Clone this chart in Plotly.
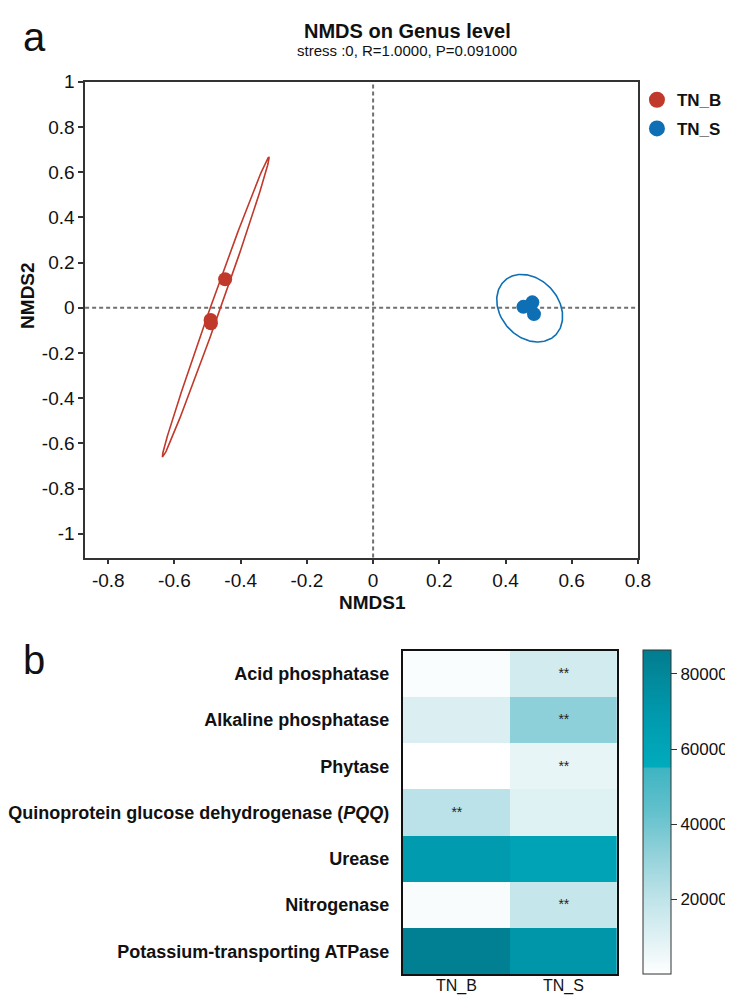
import numpy as np
import plotly.graph_objects as go

W, H = 733, 998
FONT = "Liberation Sans, Arial, Helvetica, sans-serif"

# ---------------- data: NMDS (panel a) ----------------
groups = ["TN_B", "TN_S"]
colors = {"TN_B": "#C0392B", "TN_S": "#0E6FB5"}
tnb_x = [-0.447, -0.491, -0.490]
tnb_y = [0.126, -0.054, -0.069]
tns_x = [0.454, 0.481, 0.486]
tns_y = [0.004, 0.024, -0.028]
# confidence ellipse parameters (center, covariance)
tnb_center = [-0.4755, 0.003]
tnb_cov = [[0.02595, 0.10631], [0.10631, 0.43963]]
tns_center = [0.473, -0.002]
tns_cov = [[0.0099, -0.003636], [-0.003636, 0.02238]]
x_ticks = [-0.8, -0.6, -0.4, -0.2, 0, 0.2, 0.4, 0.6, 0.8]
y_ticks = [-1, -0.8, -0.6, -0.4, -0.2, 0, 0.2, 0.4, 0.6, 0.8, 1]

# ---------------- data: heatmap (panel b) ----------------
enzymes = ["Acid phosphatase", "Alkaline phosphatase", "Phytase",
           "Quinoprotein glucose dehydrogenase (<i>PQQ</i>)", "Urease",
           "Nitrogenase", "Potassium-transporting ATPase"]
samples = ["TN_B", "TN_S"]
tn_b_vals = [1500, 11000, 0, 21000, 68000, 2000, 84000]
tn_s_vals = [14000, 33000, 7000, 10000, 62000, 18000, 71000]
tn_b_sig = ["", "", "", "**", "", "", ""]
tn_s_sig = ["**", "**", "**", "", "", "**", ""]
cbar_ticks = [20000, 40000, 60000, 80000]
z_min, z_max = 0, 86300


def fmt(v):
    s = ("%.1f" % v).rstrip("0").rstrip(".")
    return "0" if s in ("-0", "0") else s


def ellipse(center, cov, n=200):
    vals, vecs = np.linalg.eigh(np.array(cov))
    t = np.linspace(0, 2 * np.pi, n)
    circ = np.vstack([np.cos(t), np.sin(t)])
    pts = vecs @ np.diag(np.sqrt(vals)) @ circ
    return pts[0] + center[0], pts[1] + center[1]


fig = go.Figure()

# ellipses
for g, c, cv in [("TN_B", tnb_center, tnb_cov), ("TN_S", tns_center, tns_cov)]:
    ex, ey = ellipse(c, cv)
    fig.add_trace(go.Scatter(x=ex, y=ey, mode="lines", line=dict(color=colors[g], width=1.6),
                             showlegend=False, hoverinfo="skip", xaxis="x", yaxis="y"))

# points
for g, xs, ys in [("TN_B", tnb_x, tnb_y), ("TN_S", tns_x, tns_y)]:
    fig.add_trace(go.Scatter(x=xs, y=ys, mode="markers", name=g,
                             marker=dict(color=colors[g], size=14, line=dict(width=0)),
                             showlegend=False, xaxis="x", yaxis="y"))

# legend entries (separate legends to control spacing)
fig.add_trace(go.Scatter(x=[None], y=[None], mode="markers", name="TN_B",
                         marker=dict(color=colors["TN_B"], size=16), legend="legend",
                         xaxis="x", yaxis="y"))
fig.add_trace(go.Scatter(x=[None], y=[None], mode="markers", name="TN_S",
                         marker=dict(color=colors["TN_S"], size=16), legend="legend2",
                         xaxis="x", yaxis="y"))

# heatmap
z = [[b, s] for b, s in zip(tn_b_vals, tn_s_vals)]
txt = [[b, s] for b, s in zip(tn_b_sig, tn_s_sig)]
colorscale = [
    [0.0, "#FFFFFF"],
    [0.12, "#DDF0F3"],
    [0.23, "#BFE4E9"],
    [0.38, "#8FD0D9"],
    [0.50, "#63C1CC"],
    [0.634, "#3FB4C2"],
    [0.640, "#00ABBC"],
    [0.72, "#00A3B5"],
    [0.80, "#0099AD"],
    [0.90, "#028B9E"],
    [1.0, "#027C8F"],
]
fig.add_trace(go.Heatmap(
    z=z, x=samples, y=enzymes, text=txt, texttemplate="%{text}",
    textfont=dict(size=14, color="#222222", family=FONT),
    colorscale=colorscale, zmin=z_min, zmax=z_max, xaxis="x2", yaxis="y2",
    colorbar=dict(x=645.7 / W, xanchor="left", y=1 - 966 / H, yanchor="bottom",
                  len=327 / H, lenmode="fraction", thickness=27.6, thicknessmode="pixels",
                  xpad=0, ypad=0, outlinewidth=1, outlinecolor="#333333",
                  tickvals=cbar_ticks, ticktext=[str(v) for v in cbar_ticks],
                  ticks="outside", ticklen=6, tickcolor="#333333",
                  tickfont=dict(size=17, family=FONT, color="#111111")),
    hoverinfo="skip"))

# dashed zero lines
shapes = [
    dict(type="line", xref="x", yref="y domain", x0=0, x1=0, y0=0, y1=1,
         line=dict(color="#707070", width=2, dash="4px,3px"), layer="below"),
    dict(type="line", xref="x domain", yref="y", x0=0, x1=1, y0=0, y1=0,
         line=dict(color="#707070", width=2, dash="4px,3px"), layer="below"),
]

annotations = [
    dict(text="a", x=3 / W, y=1 - 19 / H, xref="paper", yref="paper", xanchor="left",
         yanchor="middle", showarrow=False, font=dict(size=40, family=FONT, color="#111")),
    dict(text="b", x=3 / W, y=1 - 648 / H, xref="paper", yref="paper", xanchor="left",
         yanchor="middle", showarrow=False, font=dict(size=40, family=FONT, color="#111")),
    dict(text="<b>NMDS on Genus level</b>", x=402 / W, y=1 - 13 / H, xref="paper", yref="paper",
         xanchor="center", yanchor="middle", showarrow=False,
         font=dict(size=20, family=FONT, color="#111")),
    dict(text="stress :0, R=1.0000, P=0.091000", x=402 / W, y=1 - 33 / H, xref="paper",
         yref="paper", xanchor="center", yanchor="middle", showarrow=False,
         font=dict(size=15, family=FONT, color="#111")),
    dict(text="<b>NMDS1</b>", x=366 / W, y=1 - 590 / H, xref="paper", yref="paper",
         xanchor="center", yanchor="middle", showarrow=False,
         font=dict(size=19, family=FONT, color="#111")),
    dict(text="<b>NMDS2</b>", x=9 / W, y=1 - 280 / H, xref="paper", yref="paper",
         xanchor="center", yanchor="middle", showarrow=False, textangle=-90,
         font=dict(size=19, family=FONT, color="#111")),
]
# heatmap column labels placed through the categorical x2 axis
for s in samples:
    annotations.append(dict(text=s, x=s, xref="x2", y=1 - 978 / H, yref="paper",
                            xanchor="center", yanchor="middle", showarrow=False,
                            font=dict(size=16, family=FONT, color="#111")))

fig.update_layout(
    width=W, height=H, margin=dict(l=0, r=0, t=0, b=0),
    paper_bgcolor="white", plot_bgcolor="white",
    font=dict(family=FONT, color="#111111"),
    xaxis=dict(domain=[69.3 / W, 640 / W], range=[-0.87, 0.8], anchor="y",
               tickvals=x_ticks, ticktext=[fmt(v) for v in x_ticks],
               showline=True, mirror=True, linecolor="#333333", linewidth=1.5,
               ticks="outside", ticklen=5, tickwidth=1.5, tickcolor="#333333",
               showgrid=False, zeroline=False, tickfont=dict(size=19)),
    yaxis=dict(domain=[1 - 545 / H, 1 - 64.4 / H], range=[-1.105, 1], anchor="x",
               tickvals=y_ticks, ticktext=[fmt(v) for v in y_ticks],
               showline=True, mirror=True, linecolor="#333333", linewidth=1.5,
               ticks="outside", ticklen=5, tickwidth=1.5, tickcolor="#333333",
               showgrid=False, zeroline=False, tickfont=dict(size=19)),
    xaxis2=dict(domain=[397.3 / W, 618.3 / W], anchor="y2", showline=True, mirror=True,
                linecolor="#111111", linewidth=2, ticks="", showticklabels=False,
                showgrid=False, zeroline=False),
    yaxis2=dict(domain=[1 - 966 / H, 1 - 639 / H], anchor="x2", autorange="reversed",
                showline=True, mirror=True, linecolor="#111111", linewidth=2,
                ticks="outside", ticklen=8, tickcolor="rgba(0,0,0,0)",
                showgrid=False, zeroline=False,
                tickfont=dict(size=18, weight="bold")),
    legend=dict(x=639 / W, y=1 - 83 / H, xanchor="left", yanchor="middle",
                bgcolor="rgba(0,0,0,0)", font=dict(size=17, weight="bold"),
                itemsizing="trace"),
    legend2=dict(x=639 / W, y=1 - 112 / H, xanchor="left", yanchor="middle",
                 bgcolor="rgba(0,0,0,0)", font=dict(size=17, weight="bold"),
                 itemsizing="trace"),
    shapes=shapes, annotations=annotations,
)

fig.write_html("out.html")
